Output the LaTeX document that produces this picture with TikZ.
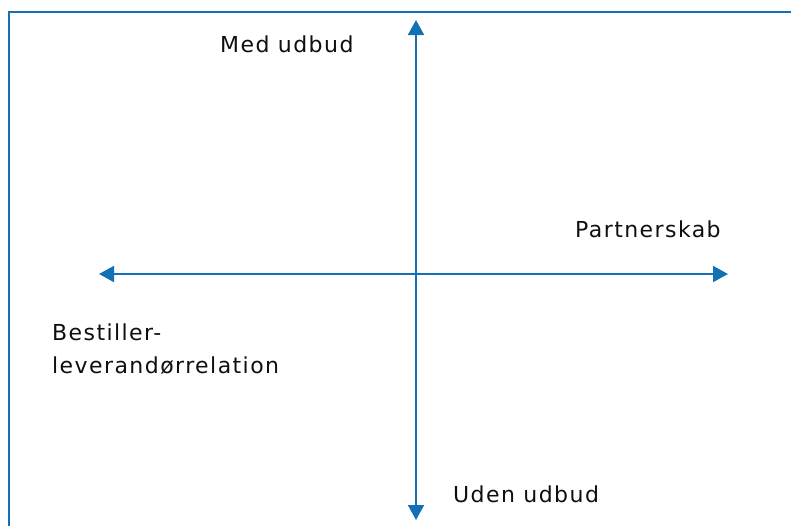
\documentclass[tikz,border=0pt]{standalone}
\usepackage{fontspec}
\setmainfont[LetterSpace=6.5]{DejaVu Sans}
\usetikzlibrary{arrows.meta}
\definecolor{axisblue}{RGB}{20,112,180}
\definecolor{txt}{RGB}{15,15,15}
\begin{document}
\begin{tikzpicture}[x=1pt,y=-1pt,
  axis/.style={draw=axisblue,line width=2pt,{Triangle[length=15pt,width=16pt]}-{Triangle[length=15pt,width=16pt]}},
  frame/.style={draw=axisblue,line width=2pt},
  lbl/.style={anchor=base west,inner sep=0pt,text=txt,font=\fontsize{22}{33}\selectfont,align=left}]
\useasboundingbox (0,0) rectangle (791,525);
\coordinate (fbl) at (8.5,526);
\coordinate (ftl) at (8.5,12);
\coordinate (ftr) at (792,12);
\draw[frame] (fbl) -- (ftl) -- (ftr);
\coordinate (top) at (416,20);
\coordinate (bot) at (416,520);
\coordinate (lft) at (99,274);
\coordinate (rgt) at (728,274);
\draw[axis] (top) -- (bot);
\draw[axis] (lft) -- (rgt);
\node[lbl] (med) at (220,52.7) {Med udbud};
\node[lbl] (part) at (575,237.7) {Partnerskab};
\node[lbl] (best) at (52,373.3) {Bestiller-\\leverandørrelation};
\node[lbl] (uden) at (453,502.7) {Uden udbud};
\end{tikzpicture}
\end{document}
